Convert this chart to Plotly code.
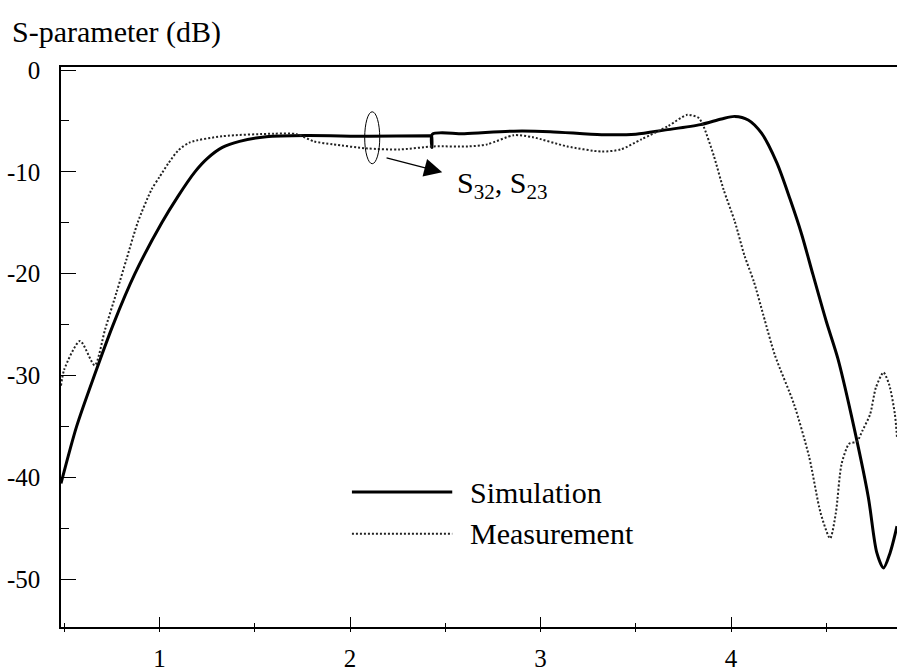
import plotly.graph_objects as go

# Frequency (GHz) / S-parameter (dB) samples
sim_freq = [0.483, 0.565, 0.658, 0.757, 0.871, 1.012, 1.097, 1.186, 1.25, 1.33,
            1.42, 1.56, 1.77, 2.1, 2.42, 2.428, 2.43, 2.432, 2.6, 2.86, 3.05, 3.32,
            3.5, 3.65, 3.84, 3.95, 4.02, 4.09, 4.16, 4.24, 4.31, 4.37, 4.43, 4.50,
            4.56, 4.63, 4.72, 4.765, 4.80, 4.835, 4.871]
sim_db = [-40.6, -35.0, -30.0, -25.0, -20.0, -15.0, -12.4, -10.0, -8.7, -7.6,
          -7.0, -6.55, -6.43, -6.5, -6.45, -6.45, -7.6, -6.3, -6.25, -6.0, -6.05, -6.35,
          -6.3, -5.9, -5.36, -4.8, -4.55, -4.9, -6.2, -9.1, -12.7, -16.1, -20.1, -24.7,
          -28.3, -33.8, -41.9, -47.4, -48.9, -47.4, -44.8]

meas_freq = [0.483, 0.50, 0.583, 0.66, 0.714, 0.775, 0.828, 0.887, 0.959, 1.0, 1.045,
             1.098, 1.16, 1.33, 1.6, 1.72, 1.81, 1.91, 2.09, 2.26, 2.44, 2.62, 2.72,
             2.86, 2.96, 3.14, 3.32, 3.42, 3.53, 3.67, 3.77, 3.83, 3.855, 3.91, 3.96,
             4.02, 4.07, 4.12, 4.17, 4.23, 4.33, 4.41, 4.47, 4.52, 4.55, 4.58, 4.62,
             4.66, 4.69, 4.73, 4.76, 4.80, 4.83, 4.86, 4.871]
meas_db = [-31.0, -29.4, -26.6, -29.0, -25.5, -21.8, -18.5, -14.9, -11.7, -10.5, -9.2,
           -7.9, -7.1, -6.5, -6.25, -6.3, -7.0, -7.3, -7.7, -7.8, -7.5, -7.5, -7.3,
           -6.4, -6.6, -7.5, -8.0, -7.8, -6.8, -5.5, -4.4, -4.7, -5.5, -8.45, -11.7,
           -14.9, -18.2, -20.8, -24.1, -28.0, -32.8, -38.0, -43.5, -46.0, -43.5, -38.7,
           -36.7, -36.5, -35.4, -33.8, -31.2, -29.7, -30.9, -33.8, -36.1]

x_ticks = [1, 2, 3, 4]
y_ticks = [0, -10, -20, -30, -40, -50]

FONT = "Liberation Serif, Times New Roman, Times, serif"

fig = go.Figure()
fig.add_trace(go.Scatter(x=sim_freq, y=sim_db, mode="lines", name="Simulation",
                         line=dict(color="black", width=3, shape="spline", smoothing=0.8),
                         showlegend=False))
fig.add_trace(go.Scatter(x=meas_freq, y=meas_db, mode="lines", name="Measurement",
                         line=dict(color="#222", width=2, dash="2px,2px",
                                   shape="spline", smoothing=0.7),
                         showlegend=False))
# helper trace so the overlay axis (outer tick marks) is drawn
fig.add_trace(go.Scatter(x=[None], y=[None], xaxis="x2", showlegend=False,
                         hoverinfo="skip"))

xr = [0.483, 4.871]
yr = [-54.7, 0.3]

fig.update_layout(
    width=897, height=672,
    margin=dict(l=61, r=0, t=67, b=41),
    plot_bgcolor="white", paper_bgcolor="white",
    font=dict(family=FONT, size=25, color="black"),
    title=dict(text="S-parameter (dB)", x=12 / 897, y=1 - 31 / 672,
               xanchor="left", yanchor="middle",
               font=dict(family=FONT, size=30, color="black")),
    xaxis=dict(range=xr, showgrid=False, zeroline=False,
               showline=True, linecolor="black", linewidth=1.5, mirror=True,
               ticks="inside", ticklen=10, tickwidth=1, tickcolor="black",
               tickvals=x_ticks, ticktext=[str(v) for v in x_ticks],
               ticklabelstandoff=8,
               tickfont=dict(family=FONT, size=25, color="black"),
               minor=dict(ticks="inside", ticklen=4, tickwidth=1, tickcolor="black",
                          tick0=0.5, dtick=0.5)),
    xaxis2=dict(range=xr, overlaying="x", side="bottom", anchor="y",
                showgrid=False, zeroline=False, showline=False,
                ticks="outside", ticklen=4, tickwidth=1, tickcolor="black",
                tick0=0.5, dtick=0.5, showticklabels=False),
    yaxis=dict(range=yr, showgrid=False, zeroline=False,
               showline=True, linecolor="black", linewidth=1.5,
               ticks="inside", ticklen=15, tickwidth=1, tickcolor="black",
               tickvals=y_ticks, ticktext=[str(v) for v in y_ticks],
               ticklabelstandoff=14,
               tickfont=dict(family=FONT, size=25, color="black"),
               minor=dict(ticks="inside", ticklen=8, tickwidth=1, tickcolor="black",
                          tick0=-5, dtick=10)),
)

# ellipse grouping the two curves, with pointer arrow and label
fig.add_shape(type="circle", xref="x", yref="y",
              x0=2.077, x1=2.156, y0=-9.2, y1=-4.1,
              line=dict(color="black", width=1))
fig.add_annotation(x=2.484, y=-10.04, ax=2.184, ay=-8.58, axref="x", ayref="y",
                   xref="x", yref="y", text="", showarrow=True,
                   arrowhead=2, arrowsize=3, arrowwidth=1.2, arrowcolor="black",
                   standoff=0)
fig.add_annotation(x=2.553, y=-11.3, xref="x", yref="y", xanchor="left",
                   yanchor="middle", showarrow=False,
                   text="S<sub>32</sub>, S<sub>23</sub>",
                   font=dict(family=FONT, size=30, color="black"))

# legend entries
legend_items = [("Simulation", 0.241, dict(color="black", width=3)),
                ("Measurement", 0.1667, dict(color="#222", width=2, dash="2px,2px"))]
for label, ypos, ln in legend_items:
    fig.add_shape(type="line", xref="paper", yref="paper",
                  x0=0.348, x1=0.468, y0=ypos, y1=ypos, line=ln)
    fig.add_annotation(x=0.487, y=ypos, xref="paper", yref="paper",
                       xanchor="left", yanchor="middle", showarrow=False,
                       text=label, font=dict(family=FONT, size=30, color="black"))

fig.write_html("out.html")
